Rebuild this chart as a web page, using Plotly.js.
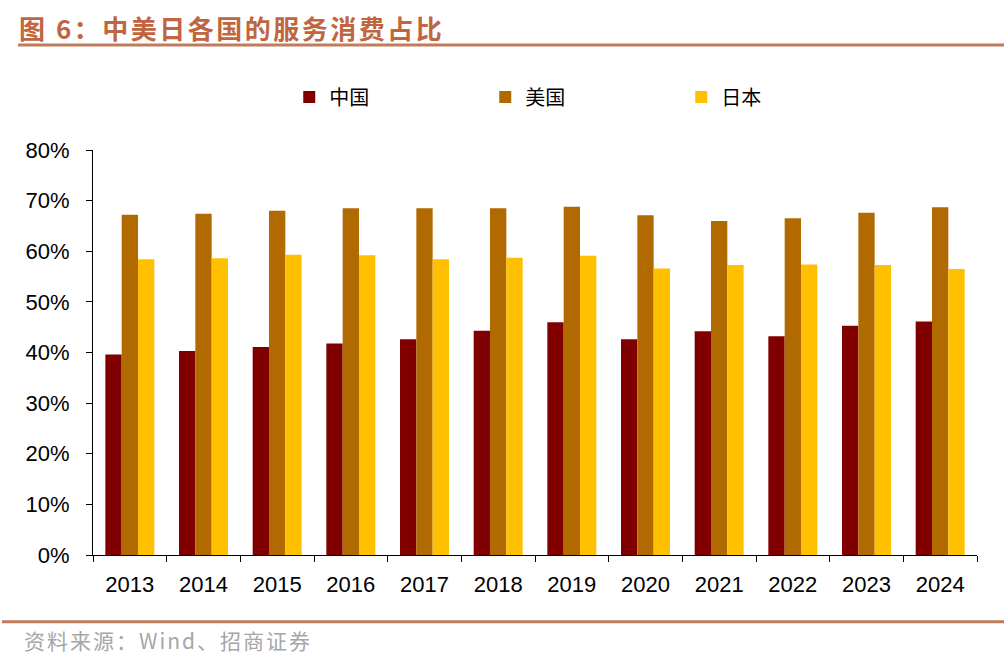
<!DOCTYPE html>
<html>
<head>
<meta charset="utf-8">
<script src="https://cdn.plot.ly/plotly-3.0.1.min.js"></script>
<style>
html,body{margin:0;padding:0;background:#fff;}
#chart{width:1004px;height:666px;}
#chart .annotation[data-index="0"] text{letter-spacing:2.5px;}
#chart .annotation[data-index="1"] text{letter-spacing:2px;}
</style>
</head>
<body>
<div id="chart"></div>
<script>
const years = ['2013','2014','2015','2016','2017','2018','2019','2020','2021','2022','2023','2024'];
const china = [39.6, 40.3, 41.1, 41.8, 42.6, 44.3, 46.0, 42.6, 44.2, 43.2, 45.3, 46.1];
const usa   = [67.2, 67.4, 68.0, 68.5, 68.5, 68.5, 68.8, 67.1, 66.0, 66.5, 67.6, 68.7];
const japan = [58.4, 58.6, 59.3, 59.2, 58.4, 58.7, 59.1, 56.6, 57.3, 57.4, 57.3, 56.5];
const seriesNames = ['中国', '美国', '日本'];
const yTicks = [0,10,20,30,40,50,60,70,80];

const colors = ['#800000', '#B06A00', '#FFC000'];
const cjk = '"Noto Sans CJK SC", "Noto Sans", sans-serif';
const latin = '"Liberation Sans", Arial, sans-serif';

const traces = [china, usa, japan].map((vals, i) => ({
  type: 'bar', x: years, y: vals, name: seriesNames[i],
  marker: {color: colors[i], line: {width: 0}},
  hoverinfo: 'x+y'
}));

const layout = {
  width: 1004, height: 666,
  margin: {l: 93, r: 27, t: 150, b: 111, autoexpand: false},
  paper_bgcolor: '#fff', plot_bgcolor: '#fff',
  barmode: 'group', bargap: 0.335, bargroupgap: 0,
  showlegend: true,
  legend: {
    orientation: 'h', x: 0.222, xanchor: 'left', y: 1.131, yanchor: 'middle',
    font: {family: cjk, size: 20, color: '#000'},
    entrywidth: 151, entrywidthmode: 'pixels',
    itemclick: false, itemdoubleclick: false, bgcolor: 'rgba(0,0,0,0)'
  },
  xaxis: {
    type: 'category', showline: true, linecolor: '#000', linewidth: 1,
    ticks: 'outside', tickson: 'boundaries', ticklen: 6, tickcolor: '#000',
    tickfont: {family: latin, size: 22, color: '#000'},
    ticklabelstandoff: 10, showgrid: false, zeroline: false, fixedrange: true
  },
  yaxis: {
    range: [0, 80], tickvals: yTicks, ticktext: yTicks.map(v => v + '%'),
    showline: true, linecolor: '#000', linewidth: 1,
    ticks: 'outside', ticklen: 6, tickcolor: '#000',
    tickfont: {family: latin, size: 22, color: '#000'},
    ticklabelstandoff: 12, showgrid: false, zeroline: false, fixedrange: true
  },
  shapes: [
    {type: 'line', xref: 'paper', yref: 'paper', x0: -0.0848, x1: 1.031, y0: 1.259, y1: 1.259,
     line: {color: '#C07C5C', width: 3}},
    {type: 'line', xref: 'paper', yref: 'paper', x0: -0.103, x1: 1.031, y0: -0.165, y1: -0.165,
     line: {color: '#C07C5C', width: 3}}
  ],
  annotations: [
    {xref: 'paper', yref: 'paper', x: -0.0635, y: 1.302, xanchor: 'left', yanchor: 'middle',
     text: '<b>图 6：中美日各国的服务消费占比</b>', showarrow: false,
     font: {family: cjk, size: 26, color: '#C0653F'}},
    {xref: 'paper', yref: 'paper', x: -0.0645, y: -0.21, xanchor: 'left', yanchor: 'middle',
     text: '资料来源：Wind、招商证券', showarrow: false,
     font: {family: cjk, size: 21, color: '#A6A6A6'}}
  ]
};

Plotly.newPlot('chart', traces, layout, {displayModeBar: false});
</script>
</body>
</html>
